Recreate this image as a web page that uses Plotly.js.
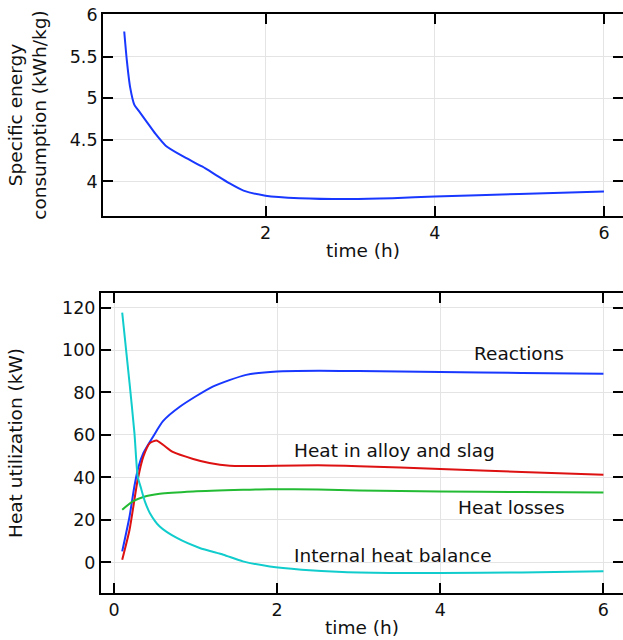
<!DOCTYPE html>
<html>
<head>
<meta charset="utf-8">
<script src="https://cdn.plot.ly/plotly-3.0.1.min.js"></script>
<style>html,body{margin:0;padding:0;background:#fff;}#chart{width:623px;height:640px;}</style>
</head>
<body>
<div id="chart"></div>
<script>
// Top panel: specific energy consumption (kWh/kg)
const secTime = [0.33, 0.36, 0.40, 0.45, 0.50, 0.60, 0.70, 0.82, 1.01, 1.25, 1.41, 1.57, 1.74, 2.0, 2.4, 3.0, 3.5, 4.0, 5.0, 6.0];
const secValue = [5.80, 5.46, 5.13, 4.92, 4.85, 4.71, 4.57, 4.43, 4.31, 4.18, 4.08, 3.98, 3.89, 3.83, 3.80, 3.79, 3.80, 3.82, 3.85, 3.88];

// Bottom panel: heat utilization (kW)
const reactTime = [0.10, 0.19, 0.25, 0.30, 0.36, 0.48, 0.60, 0.81, 1.21, 1.62, 2.0, 2.52, 3.0, 4.0, 5.0, 6.0];
const reactValue = [5.2, 21.6, 36.0, 45.0, 51.5, 59.3, 66.5, 73.4, 82.8, 88.3, 89.9, 90.2, 90.1, 89.6, 89.2, 88.8];

const alloyTime = [0.10, 0.19, 0.29, 0.36, 0.44, 0.52, 0.60, 0.72, 0.97, 1.17, 1.42, 1.67, 2.0, 2.5, 3.0, 4.0, 5.0, 6.0];
const alloyValue = [1.3, 15.4, 38.9, 49.9, 56.2, 57.4, 55.4, 52.0, 48.7, 46.8, 45.5, 45.4, 45.5, 45.7, 45.3, 44.0, 42.6, 41.3];

const lossTime = [0.10, 0.23, 0.36, 0.56, 0.97, 1.58, 1.91, 2.5, 3.0, 4.0, 5.0, 6.0];
const lossValue = [24.8, 28.7, 30.8, 32.3, 33.4, 34.2, 34.5, 34.3, 33.9, 33.4, 33.1, 32.9];

const balTime = [0.10, 0.19, 0.25, 0.29, 0.33, 0.38, 0.44, 0.56, 0.77, 1.05, 1.34, 1.58, 1.91, 2.3, 2.8, 3.5, 4.0, 5.0, 6.0];
const balValue = [117.6, 84.4, 60.9, 40.5, 35.0, 28.5, 23.2, 16.9, 11.5, 6.8, 3.6, 0.5, -1.9, -3.4, -4.5, -5.0, -5.0, -4.7, -4.2];

const labelNames = ["Reactions", "Heat in alloy and slag", "Heat losses", "Internal heat balance"];
const labelX = [4.39, 2.18, 4.19, 2.18];
const labelY = [98.2, 52.7, 25.9, 3.2];

const cBlue = "#1837ff", cRed = "#dd1111", cGreen = "#22bb33", cCyan = "#11cccc";
const FONT = "DejaVu Sans, sans-serif";

function line(x, y, color, xa, ya) {
  return {x: x, y: y, type: "scatter", mode: "lines", xaxis: xa, yaxis: ya,
    line: {color: color, width: 2, shape: "spline", smoothing: 0.6}, hoverinfo: "skip", showlegend: false};
}

const traces = [
  line(secTime, secValue, cBlue, "x", "y"),
  line(reactTime, reactValue, cBlue, "x2", "y2"),
  line(alloyTime, alloyValue, cRed, "x2", "y2"),
  line(lossTime, lossValue, cGreen, "x2", "y2"),
  line(balTime, balValue, cCyan, "x2", "y2")
];

const axBase = {
  showline: true, linecolor: "#000", linewidth: 2, mirror: "allticks",
  ticks: "inside", ticklen: 10, tickwidth: 2, tickcolor: "#000",
  showgrid: true, gridcolor: "#e4e4e4", gridwidth: 1, zeroline: false,
  tickfont: {family: FONT, size: 17.5, color: "#111"}
};

const layout = {
  width: 623, height: 640,
  margin: {l: 101, r: 0, t: 14, b: 47},
  paper_bgcolor: "#fff", plot_bgcolor: "#fff",
  font: {family: FONT, color: "#111"},
  showlegend: false,
  xaxis: Object.assign({}, axBase, {domain: [0.004, 1], range: [0.08, 6.225], tickvals: [2, 4, 6], anchor: "y",
    title: {text: "time (h)", font: {family: FONT, size: 18.5}, standoff: 2}}),
  yaxis: Object.assign({}, axBase, {domain: [0.651, 1], range: [3.585, 6.01], dtick: 0.5, anchor: "x",
    title: {text: "Specific energy<br>consumption (kWh/kg)", font: {family: FONT, size: 18.5}, standoff: 18}}),
  xaxis2: Object.assign({}, axBase, {domain: [0, 1], range: [-0.16, 6.24], tickvals: [0, 2, 4, 6], anchor: "y2",
    title: {text: "time (h)", font: {family: FONT, size: 18.5}, standoff: 2}}),
  yaxis2: Object.assign({}, axBase, {domain: [0, 0.518], range: [-14.4, 126.8], dtick: 20, anchor: "x2",
    title: {text: "Heat utilization (kW)", font: {family: FONT, size: 18.5}, standoff: 35}}),
  annotations: labelNames.map((t, i) => ({
    text: t, x: labelX[i], y: labelY[i], xref: "x2", yref: "y2",
    xanchor: "left", yanchor: "middle", showarrow: false,
    font: {family: FONT, size: 18.5, color: "#111"}
  }))
};

Plotly.newPlot("chart", traces, layout, {displayModeBar: false, staticPlot: true});
</script>
</body>
</html>
